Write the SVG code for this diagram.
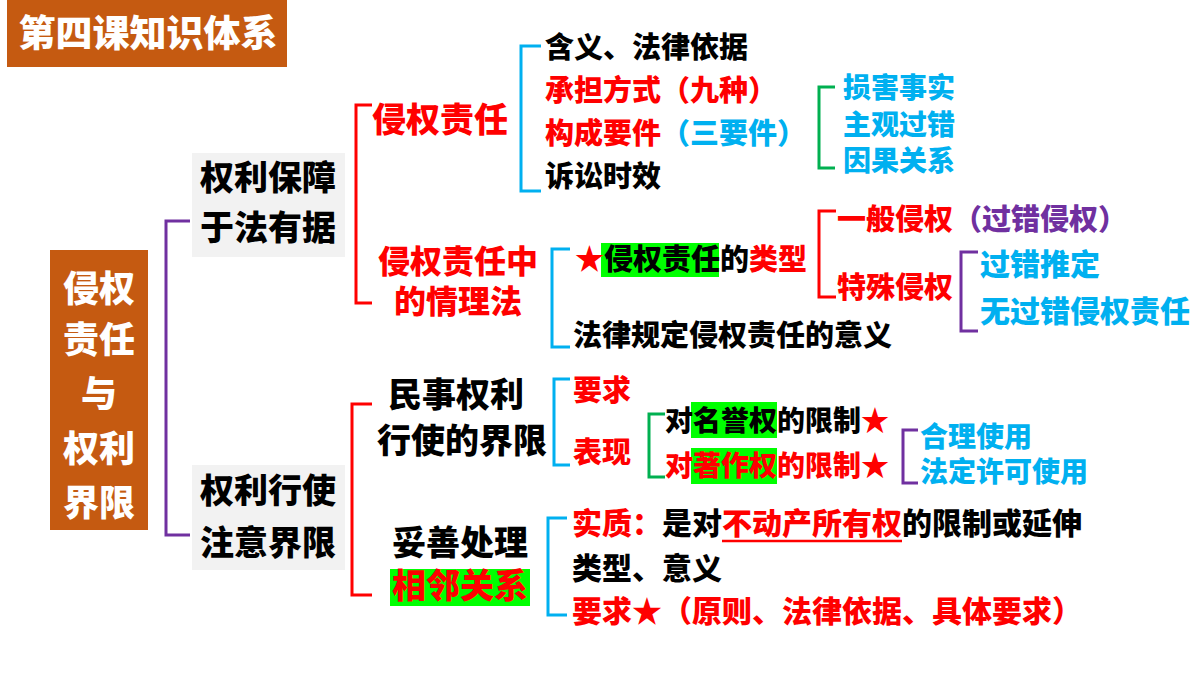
<svg xmlns="http://www.w3.org/2000/svg" width="1200" height="675" viewBox="0 0 1200 675">
<style>
text{font-family:"Noto Sans CJK SC","Noto Sans",sans-serif;font-weight:900;font-size:29px;fill:#000}
.r{fill:#FF0000}.b{fill:#00B0F0}.p{fill:#7030A0}.w{fill:#fff}
.big{font-size:34px}.mid{font-size:32px}.sm{font-size:28px}.s30{font-size:30px}
.br{fill:none;stroke-width:3}
</style>
<rect width="1200" height="675" fill="#fff"/>
<g id="title"><rect x="7" y="0" width="280" height="67" fill="#C55A11"/><text class="w" x="148" y="47" text-anchor="middle" style="font-size:37px">第四课知识体系</text></g>
<g id="root"><rect x="50" y="250" width="98" height="280" fill="#C55A11"/>
<text class="w" x="99" y="302" text-anchor="middle" style="font-size:36px">侵权</text><text class="w" x="99" y="353" text-anchor="middle" style="font-size:36px">责任</text><text class="w" x="99" y="407" text-anchor="middle" style="font-size:36px">与</text><text class="w" x="99" y="462" text-anchor="middle" style="font-size:36px">权利</text><text class="w" x="99" y="516" text-anchor="middle" style="font-size:36px">界限</text></g>
<g id="connectors">
<path class="br" stroke="#7030A0" d="M190 221H166V535H190"/>
<path class="br" stroke="#FF0000" d="M372 105H356V303H372"/>
<path class="br" stroke="#00B0F0" d="M541 46H521V191H541"/>
<path class="br" stroke="#00B050" d="M835 87H819V168H835"/>
<path class="br" stroke="#00B0F0" d="M570 249H552V347H570"/>
<path class="br" stroke="#FF0000" d="M836 211H819V297H836"/>
<path class="br" stroke="#7030A0" d="M978 252H961V331H978"/>
<path class="br" stroke="#FF0000" d="M372 404H352V595H372"/>
<path class="br" stroke="#00B0F0" d="M570 379H554V465H570"/>
<path class="br" stroke="#00B050" d="M665 414H649V477H665"/>
<path class="br" stroke="#7030A0" d="M918 430H903V483H918"/>
<path class="br" stroke="#00B0F0" d="M567 518H548V615H567"/>
</g>
<g id="n1"><rect x="192" y="153" width="153" height="104" fill="#F2F2F2"/><text class="big" x="268" y="190" text-anchor="middle">权利保障</text><text class="big" x="268" y="240" text-anchor="middle">于法有据</text></g>
<g id="n2"><rect x="192" y="465" width="153" height="105" fill="#F2F2F2"/><text class="big" x="268" y="503" text-anchor="middle">权利行使</text><text class="big" x="268" y="555" text-anchor="middle">注意界限</text></g>
<g id="n3"><text class="big r" x="372" y="132">侵权责任</text></g>
<g id="n4"><text class="mid r" x="458" y="273" text-anchor="middle">侵权责任中</text><text class="mid r" x="458" y="313" text-anchor="middle">的情理法</text></g>
<g id="n5"><text x="545" y="58">含义、法律依据</text><text class="r" x="545" y="101">承担方式（九种）</text><text x="545" y="144"><tspan class="r">构成要件</tspan><tspan class="b">（三要件）</tspan></text><text x="545" y="187">诉讼时效</text></g>
<g id="n6"><text class="sm b" x="843" y="98">损害事实</text><text class="sm b" x="843" y="135">主观过错</text><text class="sm b" x="843" y="171">因果关系</text></g>
<g id="n7"><rect x="601" y="243" width="118" height="34" fill="#00FF00"/><text x="575" y="270"><tspan class="r">★</tspan>侵权责任的<tspan class="r">类型</tspan></text><text x="573" y="346">法律规定侵权责任的意义</text></g>
<g id="n8"><text x="837" y="230"><tspan class="r">一般侵权</tspan><tspan class="p">（过错侵权）</tspan></text><text class="r" x="837" y="298">特殊侵权</text></g>
<g id="n9"><text class="s30 b" x="980" y="275">过错推定</text><text class="s30 b" x="980" y="322">无过错侵权责任</text></g>
<g id="n10"><text class="big" x="456" y="407" text-anchor="middle">民事权利</text><text class="big" x="462" y="453" text-anchor="middle">行使的界限</text></g>
<g id="n11"><text class="big" x="460" y="555" text-anchor="middle">妥善处理</text><rect x="390" y="569" width="140" height="37" fill="#00FF00"/><text class="big r" x="460" y="598" text-anchor="middle">相邻关系</text></g>
<g id="n12"><text class="r" x="573" y="401">要求</text><text class="r" x="573" y="463">表现</text></g>
<g id="n13"><rect x="691" y="402" width="86" height="36" fill="#00FF00"/><text class="sm" x="665" y="431">对名誉权的限制<tspan class="r">★</tspan></text><rect x="691" y="448" width="86" height="36" fill="#00FF00"/><text class="sm r" x="665" y="476">对著作权的限制★</text></g>
<g id="n14"><text class="sm b" x="920" y="447">合理使用</text><text class="sm b" x="920" y="482">法定许可使用</text></g>
<g id="n15"><text class="s30" x="572" y="534"><tspan class="r">实质：</tspan>是对<tspan class="r">不动产所有权</tspan>的限制或延伸</text><line x1="722" y1="541" x2="902" y2="541" stroke="#FF0000" stroke-width="2.5"/><text class="s30" x="572" y="579">类型、意义</text><text class="s30 r" x="572" y="622">要求★（原则、法律依据、具体要求）</text></g>
</svg>
